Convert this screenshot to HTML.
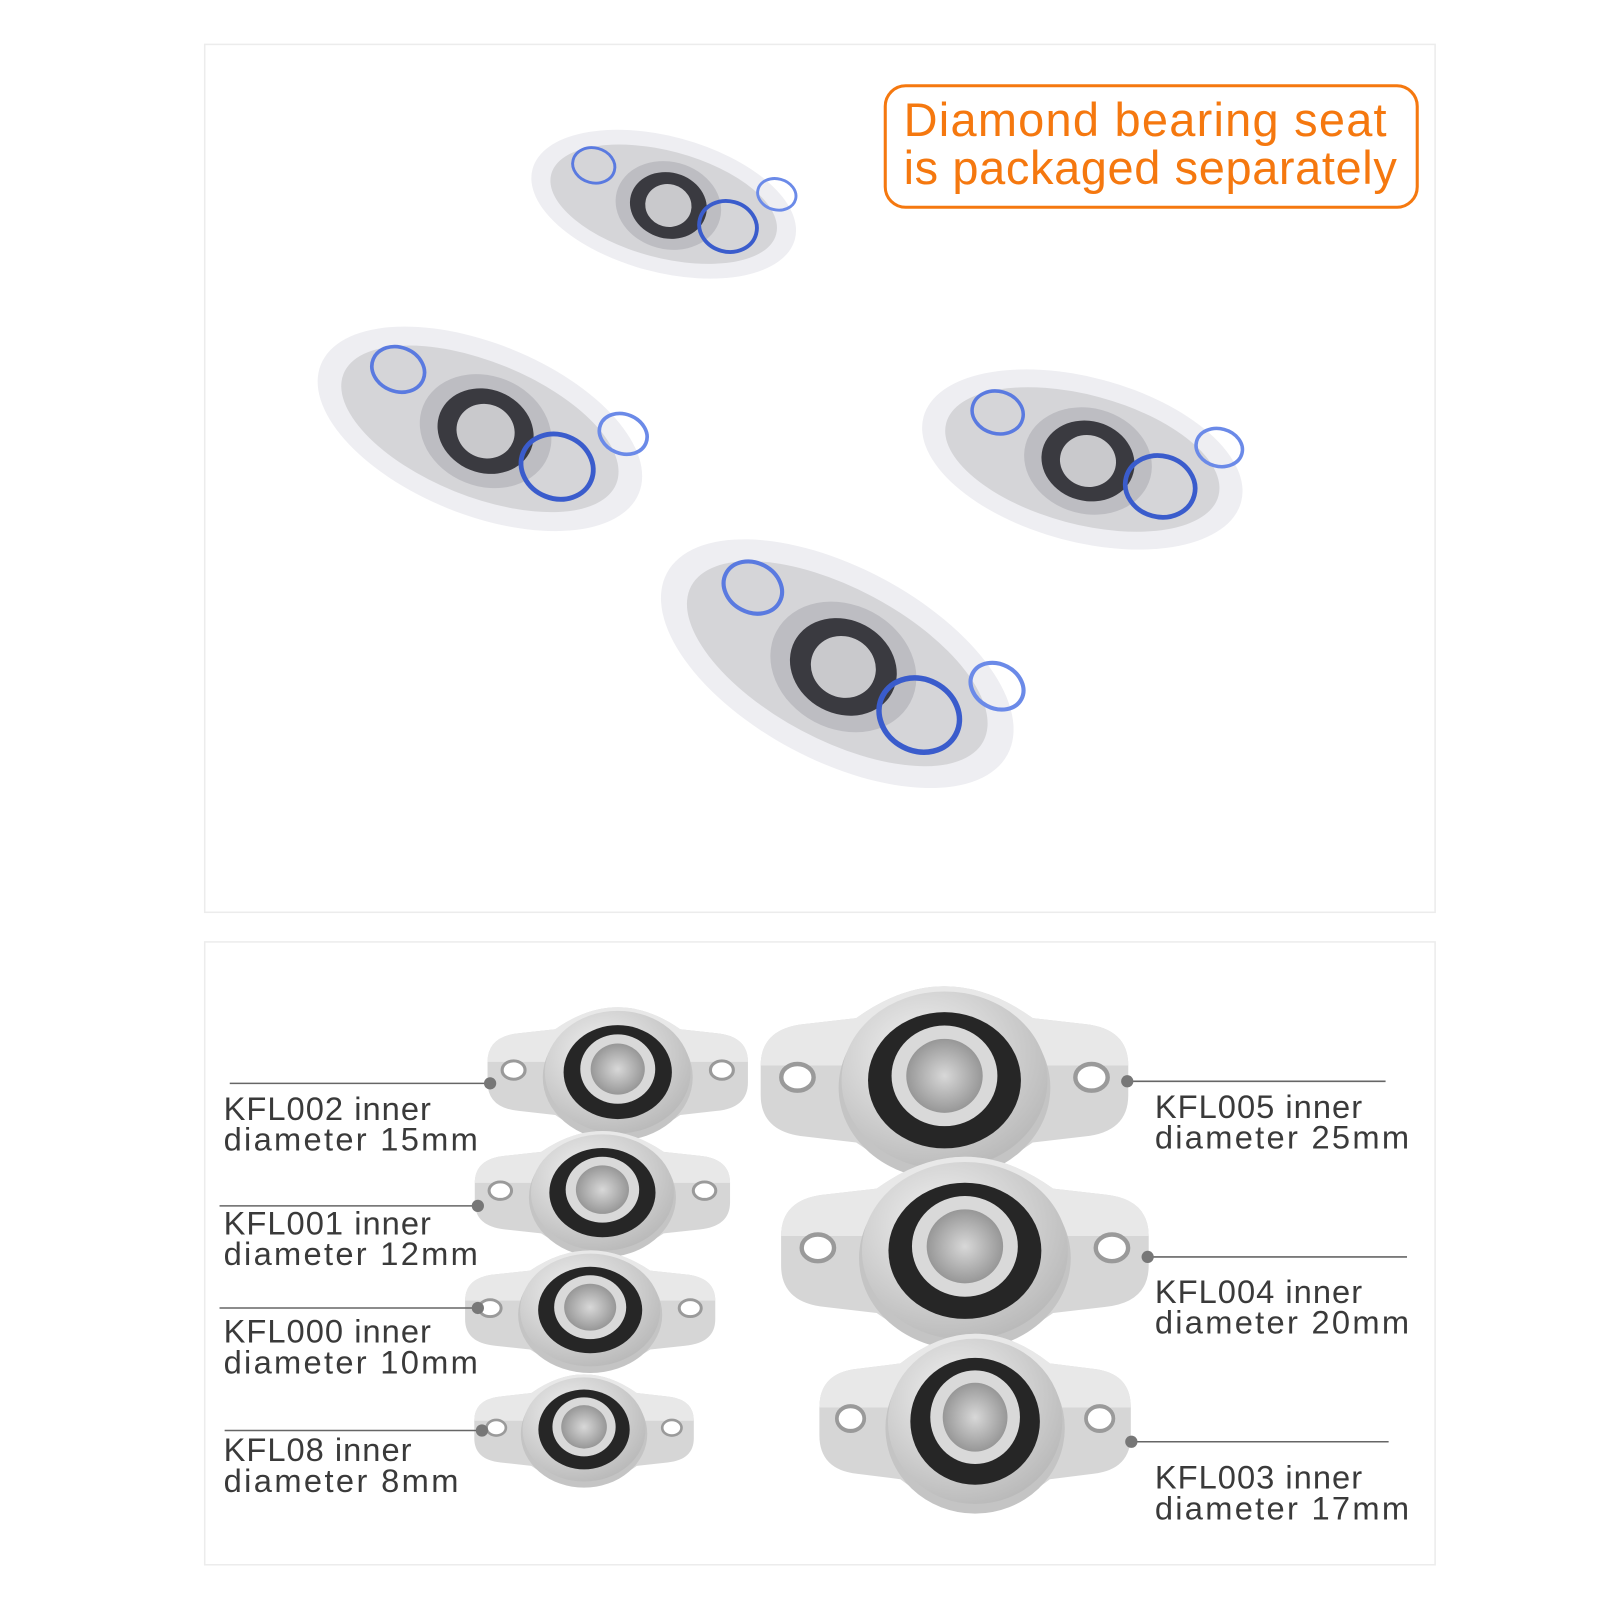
<!DOCTYPE html>
<html><head><meta charset="utf-8"><style>
html,body{margin:0;padding:0;background:#fff;}
svg{display:block}
text{font-family:"Liberation Sans","DejaVu Sans",sans-serif;}
</style></head><body>
<svg width="1600" height="1600" viewBox="0 0 1567 1567" xmlns="http://www.w3.org/2000/svg">
<defs>
<radialGradient id="met" cx="40%" cy="35%" r="70%"><stop offset="0" stop-color="#f2f2f2"/><stop offset="1" stop-color="#b8b8b8"/></radialGradient>
<radialGradient id="bore" cx="50%" cy="50%" r="60%"><stop offset="0" stop-color="#d8d8d8"/><stop offset="1" stop-color="#8a8a8a"/></radialGradient>
<g id="brg">
  <path d="M-125,-10 Q-125,-35 -95,-38 L-60,-42 Q0,-85 60,-42 L95,-38 Q125,-35 125,-10 L125,10 Q125,35 95,38 L60,42 Q0,85 -60,42 L-95,38 Q-125,35 -125,10 Z" fill="#d6d6d6"/>
  <path d="M-125,-10 Q-125,-35 -95,-38 L-60,-42 Q0,-85 60,-42 L95,-38 Q125,-35 125,-10 Z" fill="#e8e8e8"/>
  <ellipse cx="-100" cy="-2" rx="11" ry="9" fill="#fff" stroke="#9a9a9a" stroke-width="3"/>
  <ellipse cx="100" cy="-2" rx="11" ry="9" fill="#fff" stroke="#9a9a9a" stroke-width="3"/>
  <ellipse cx="0" cy="5" rx="72" ry="62" fill="#c4c4c4"/>
  <ellipse cx="0" cy="0" rx="70" ry="60" fill="url(#met)"/>
  <ellipse cx="0" cy="0" rx="52" ry="46" fill="#262626"/>
  <ellipse cx="0" cy="-3" rx="36" ry="34" fill="#d9d9d9"/>
  <ellipse cx="0" cy="-3" rx="26" ry="25" fill="url(#bore)"/>
</g>
<g id="pk">
  <ellipse cx="0" cy="0" rx="140" ry="70" fill="#eeeef2"/>
  <ellipse cx="0" cy="0" rx="120" ry="55" fill="#d5d5d8"/>
  <ellipse cx="5" cy="0" rx="55" ry="45" fill="#bdbdc2"/>
  <ellipse cx="5" cy="0" rx="40" ry="34" fill="#3a3a40"/>
  <ellipse cx="5" cy="0" rx="24" ry="22" fill="#c9c9cc"/>
  <ellipse cx="70" cy="5" rx="30" ry="26" fill="none" stroke="#3a5ccc" stroke-width="4"/>
  <ellipse cx="-80" cy="-20" rx="22" ry="18" fill="none" stroke="#5a7ae0" stroke-width="3"/>
  <ellipse cx="110" cy="-40" rx="20" ry="16" fill="none" stroke="#6b8ae8" stroke-width="3"/>
</g>
</defs>
<rect x="200.5" y="43.5" width="1205" height="850" fill="#fff" stroke="#ececec" stroke-width="1.5"/>
<rect x="200.5" y="922.5" width="1205" height="610" fill="#fff" stroke="#ececec" stroke-width="1.5"/>

<use href="#pk" transform="translate(650,200) rotate(15) scale(0.95)"/>
<use href="#pk" transform="translate(470,420) rotate(22) scale(1.2)"/>
<use href="#pk" transform="translate(1060,450) rotate(15) scale(1.15)"/>
<use href="#pk" transform="translate(820,650) rotate(28) scale(1.35)"/>

<rect x="867" y="84" width="521" height="119" rx="20" fill="#fff" stroke="#f5780f" stroke-width="3"/>
<text x="885" y="133" font-size="46" fill="#f5780f" textLength="473">Diamond bearing seat</text>
<text x="885" y="180" font-size="46" fill="#f5780f" textLength="483">is packaged separately</text>

<use href="#brg" transform="translate(605,1050) scale(1.02,1.0)"/>
<use href="#brg" transform="translate(590,1168) scale(1.0,0.95)"/>
<use href="#brg" transform="translate(578,1283) scale(0.98,0.92)"/>
<use href="#brg" transform="translate(572,1400) scale(0.86,0.85)"/>
<use href="#brg" transform="translate(925,1058) scale(1.44,1.45)"/>
<use href="#brg" transform="translate(945,1225) scale(1.44,1.45)"/>
<use href="#brg" transform="translate(955,1392) scale(1.22,1.35)"/>

<g stroke="#666" stroke-width="1.5">
<line x1="225" y1="1061" x2="480" y2="1061"/>
<line x1="215" y1="1181" x2="468" y2="1181"/>
<line x1="215" y1="1281" x2="468" y2="1281"/>
<line x1="220" y1="1401" x2="472" y2="1401"/>
<line x1="1104" y1="1059" x2="1357" y2="1059"/>
<line x1="1124" y1="1231" x2="1378" y2="1231"/>
<line x1="1108" y1="1412" x2="1360" y2="1412"/>
</g>
<g fill="#777">
<circle cx="480" cy="1061" r="6"/><circle cx="468" cy="1181" r="6"/><circle cx="468" cy="1281" r="6"/><circle cx="472" cy="1401" r="6"/>
<circle cx="1104" cy="1059" r="6"/><circle cx="1124" cy="1231" r="6"/><circle cx="1108" cy="1412" r="6"/>
</g>
<g font-size="32" fill="#3a3a3a">
<text x="219" y="1097" textLength="203">KFL002 inner</text><text x="219" y="1127" textLength="249">diameter 15mm</text>
<text x="219" y="1209" textLength="203">KFL001 inner</text><text x="219" y="1239" textLength="249">diameter 12mm</text>
<text x="219" y="1315" textLength="203">KFL000 inner</text><text x="219" y="1345" textLength="249">diameter 10mm</text>
<text x="219" y="1431" textLength="184">KFL08 inner</text><text x="219" y="1461" textLength="230">diameter 8mm</text>
<text x="1131" y="1095" textLength="203">KFL005 inner</text><text x="1131" y="1125" textLength="249">diameter 25mm</text>
<text x="1131" y="1276" textLength="203">KFL004 inner</text><text x="1131" y="1306" textLength="249">diameter 20mm</text>
<text x="1131" y="1458" textLength="203">KFL003 inner</text><text x="1131" y="1488" textLength="249">diameter 17mm</text>
</g>
</svg>
</body></html>
